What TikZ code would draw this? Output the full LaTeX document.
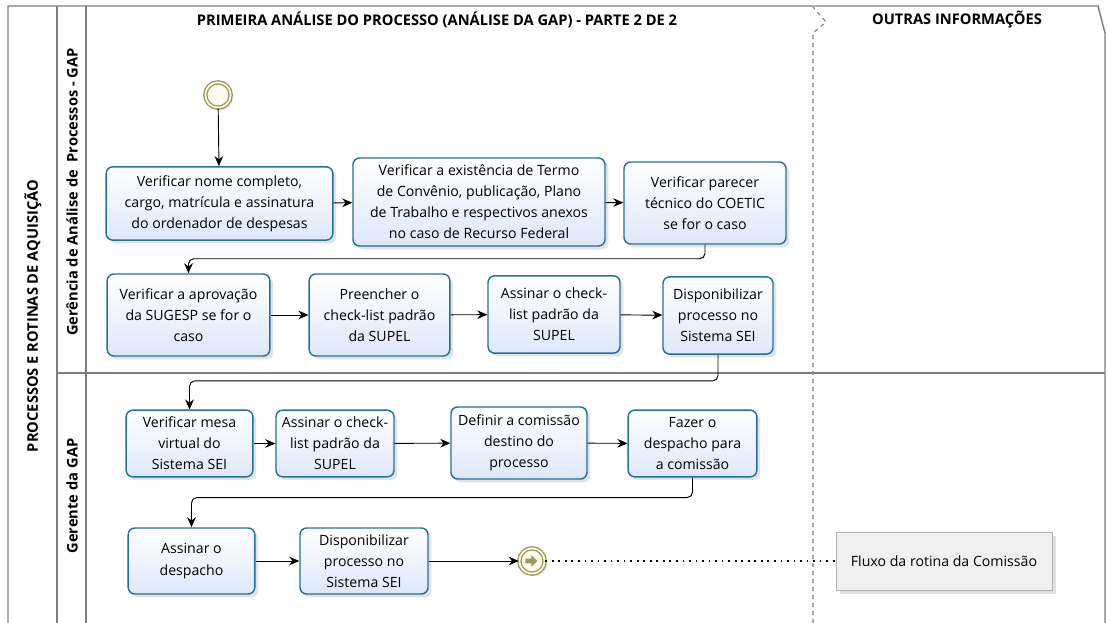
\documentclass[tikz,border=0pt]{standalone}
\usepackage{fontspec}
\setmainfont{Open Sans}
\usetikzlibrary{arrows.meta}
\usetikzlibrary{shadows}
\definecolor{taskblue}{RGB}{36,112,158}
\definecolor{taskfill}{RGB}{222,231,250}
\definecolor{evolive}{RGB}{158,152,88}
\definecolor{evfill}{RGB}{252,250,236}
\definecolor{lanegray}{RGB}{125,125,125}
\tikzset{
    task/.style={draw=taskblue, line width=1.1pt, rounded corners=5pt,
        top color=white, bottom color=taskfill, align=center, inner sep=2pt,
        font=\fontsize{10.6}{15.8}\selectfont,
        drop shadow={opacity=0.22, shadow xshift=2.5pt, shadow yshift=-2.5pt}},
    event/.style={circle, minimum size=19pt, inner sep=0pt, draw=evolive,
        line width=1pt, double=evfill, double distance=1.3pt, fill=evfill,
        drop shadow={opacity=0.2, shadow xshift=2pt, shadow yshift=-2pt}},
    flow/.style={draw=black, line width=0.7pt, rounded corners=4pt,
        -{Stealth[length=7.5pt,width=6.5pt]}},
    lane/.style={draw=lanegray, line width=1.1pt},
    note/.style={draw=gray!60, fill=gray!12, minimum width=162pt, minimum height=43.5pt,
        font=\fontsize{10.6}{13}\selectfont,
        drop shadow={opacity=0.25, shadow xshift=3pt, shadow yshift=-3pt}},
    title/.style={font=\fontsize{11}{13}\bfseries}
}

\begin{document}
\begin{tikzpicture}[x=0.75pt,y=-0.75pt]
\useasboundingbox (0,0) rectangle (1108,623);
% pool and lanes
\draw[lane] (8,623) -- (8,6) -- (1098,6) -- (1105,33) -- (1105,623);
\draw[lane] (57,6) -- (57,623);
\draw[lane] (86,6) -- (86,623);
\draw[lane] (57,373) -- (1105,373);
\draw[draw=lanegray, line width=0.8pt, dashed] (813,623) -- (813,33) -- (826,22) -- (813,7);
\node[title] (head1) at (437,20) {PRIMEIRA ANÁLISE DO PROCESSO (ANÁLISE DA GAP) - PARTE 2 DE 2};
\node[title] (head2) at (957,20) {OUTRAS INFORMAÇÕES};
\node[title, rotate=90] (pool) at (33,316) {PROCESSOS E ROTINAS DE AQUISIÇÃO};
\node[title, rotate=90] (lane1) at (72,192) {Gerência de Análise de\ \ Processos - GAP};
\node[title, rotate=90] (lane2) at (72,496) {Gerente da GAP};

% first lane
\node[event] (start) at (218,95) {};
\node[task, minimum width=170pt, minimum height=55pt] (t1) at (219.5,203.5)
  {Verificar nome completo,\\cargo, matrícula e assinatura\\do ordenador de despesas};
\node[task, minimum width=189pt, minimum height=66pt] (t2) at (479,202)
  {Verificar a existência de Termo\\de Convênio, publicação, Plano\\de Trabalho e respectivos anexos\\no caso de Recurso Federal};
\node[task, minimum width=121.5pt, minimum height=61.5pt] (t3) at (705,203)
  {Verificar parecer\\técnico do COETIC\\se for o caso};
\node[task, minimum width=122pt, minimum height=61.5pt] (t4) at (188.5,315)
  {Verificar a aprovação\\da SUGESP se for o\\caso};
\node[task, minimum width=105.5pt, minimum height=61.5pt] (t5) at (379.5,315)
  {Preencher o\\check-list padrão\\da SUPEL};
\node[task, minimum width=99pt, minimum height=58pt] (t6) at (554,314.5)
  {Assinar o check-\\list padrão da\\SUPEL};
\node[task, minimum width=82.5pt, minimum height=58pt] (t7) at (718,315.5)
  {Disponibilizar\\processo no\\Sistema SEI};

% second lane
\node[task, minimum width=95pt, minimum height=50pt] (t8) at (189.5,443.5)
  {Verificar mesa\\virtual do\\Sistema SEI};
\node[task, minimum width=88.5pt, minimum height=50pt] (t9) at (335,443.5)
  {Assinar o check-\\list padrão da\\SUPEL};
\node[task, minimum width=102pt, minimum height=54pt] (t10) at (519,443)
  {Definir a comissão\\destino do\\processo};
\node[task, minimum width=96.5pt, minimum height=50pt] (t11) at (692.5,443.5)
  {Fazer o\\despacho para\\a comissão};
\node[task, minimum width=95pt, minimum height=49.5pt] (t12) at (191.5,561)
  {Assinar o\\despacho};
\node[task, minimum width=96pt, minimum height=49.5pt] (t13) at (364,561)
  {Disponibilizar\\processo no\\Sistema SEI};
\node[event] (link) at (532,561) {};
\fill[evolive] ([xshift=-5pt,yshift=1.8pt]link.center) -- ++(4.5pt,0) -- ++(0,2.6pt)
  -- ++(4.6pt,-4.4pt) -- ++(-4.6pt,-4.4pt) -- ++(0,2.6pt) -- ++(-4.5pt,0) -- cycle;
\node[note] (info) at (944,561) {Fluxo da rotina da Comissão};

% connectors
\draw[flow] (start) -- (t1);
\draw[flow] (t1) -- (t2);
\draw[flow] (t2) -- (t3);
\draw[flow] (t3.south) -- ++(0,14) -| (t4.north);
\draw[flow] (t4) -- (t5);
\draw[flow] (t5) -- (t6);
\draw[flow] (t6) -- (t7);
\draw[flow] (t7.south) -- ++(0,26) -| (t8.north);
\draw[flow] (t8) -- (t9);
\draw[flow] (t9) -- (t10);
\draw[flow] (t10) -- (t11);
\draw[flow] (t11.south) -- ++(0,20) -| (t12.north);
\draw[flow] (t12) -- (t13);
\draw[flow] (t13) -- (link);
\draw[line width=1.3pt, dash pattern=on 1.3pt off 3.6pt] (link) -- (info);
\end{tikzpicture}
\end{document}
